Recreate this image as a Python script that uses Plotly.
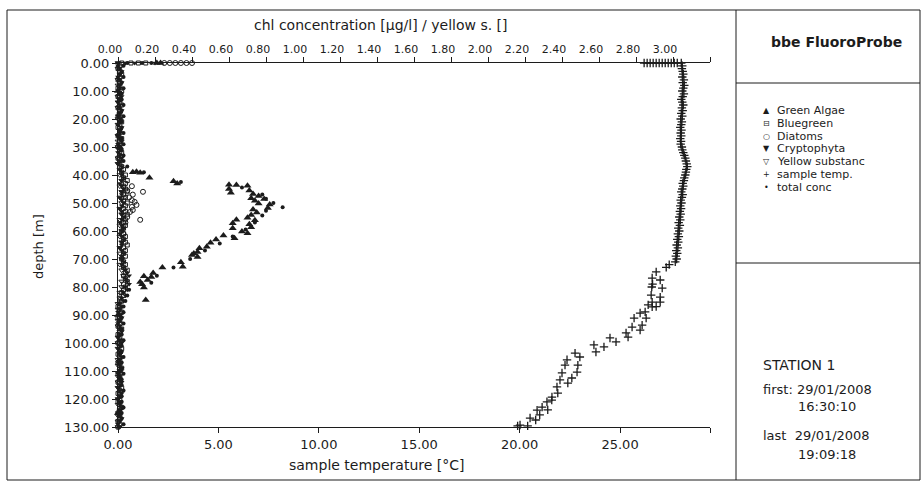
import plotly.graph_objects as go

# ---------------------------------------------------------------- data
# sample temperature profile [°C] vs depth [m]
depth_temp = [0, 0, 0, 0, 0, 0, 0, 0, 0, 0, 0, 0, 0,
              1, 2, 3, 4, 5, 6, 7, 8, 9, 10, 11, 12, 13, 14, 15, 16, 17, 18, 19, 20,
              21, 22, 23, 24, 25, 26, 27, 28, 29, 30, 31, 32, 33, 34, 35, 36, 37, 38, 39, 40,
              41, 42, 43, 44, 45, 46, 47, 48, 49, 50, 51, 52, 53, 54, 55, 56, 57, 58, 59, 60,
              61, 62, 63, 64, 65, 66, 67, 68, 69, 70, 71, 72,
              74.6, 76.8, 79.0, 80.0, 82.9, 85.4, 86.4, 88.9, 89.3, 91.1, 94.3, 96.4, 98.2,
              100.7, 103.6, 106.0, 107.9, 110.7, 113.2, 115.7, 119.3, 121.0, 122.9, 124.0,
              126.8, 129.3, 129.6,
              73.0, 77.5, 80.4, 83.6, 85.4, 87.1, 87.0, 91.1, 93.6, 95.4, 97.9, 99.6, 101.4,
              103.2, 105.0, 107.9, 110.4, 112.5, 114.3, 117.9, 120.4, 123.9, 125.7, 127.5, 129.6]
temp_c = [26.20, 26.35, 26.50, 26.65, 26.80, 26.95, 27.10, 27.25, 27.40, 27.55, 27.70, 27.85, 28.05,
          28.10, 28.08, 28.12, 28.15, 28.10, 28.18, 28.12, 28.20, 28.15, 28.10, 28.18, 28.12, 28.05,
          28.10, 28.15, 28.08, 28.12, 28.05, 28.10, 28.02,
          28.08, 28.05, 28.00, 28.06, 28.02, 28.05, 28.00, 28.04, 28.02, 28.08, 28.10, 28.15, 28.20,
          28.25, 28.28, 28.32, 28.35, 28.30, 28.28, 28.25,
          28.20, 28.18, 28.12, 28.15, 28.10, 28.05, 28.12, 28.08, 28.02, 28.06, 28.00, 28.04, 27.98,
          28.02, 27.95, 28.00, 27.92, 27.98, 27.90, 27.95,
          27.88, 27.93, 27.85, 27.90, 27.82, 27.88, 27.80, 27.85, 27.78, 27.82, 27.75, 27.45,
          26.80, 26.60, 26.62, 26.58, 26.55, 26.60, 26.40, 26.25, 26.00, 25.70, 25.60, 25.30, 24.50,
          23.70, 22.76, 22.36, 22.26, 22.11, 22.01, 21.86, 21.61, 21.36, 21.12, 20.87,
          20.52, 20.02, 19.90,
          27.30, 27.00, 27.10, 27.00, 27.00, 26.60, 26.80, 26.30, 26.10, 26.00, 25.40, 24.80, 24.20,
          23.80, 23.00, 22.90, 22.86, 22.60, 22.40, 21.90, 21.60, 21.40, 21.00, 20.80, 20.40]

# chlorophyll classes [µg/l]; readings at the surface come first, then one per metre
depth_col = [0, 0, 0, 0,
             1, 2, 3, 4, 5, 6, 7, 8, 9, 10, 11, 12, 13, 14, 15, 16, 17, 18, 19, 20,
             21, 22, 23, 24, 25, 26, 27, 28, 29, 30, 31, 32, 33, 34, 35, 36, 37,
             38, 39, 40, 41, 42, 43, 44, 45, 46, 47, 48, 49, 50, 51, 52, 53, 54, 55, 56, 57,
             58, 59, 60, 61, 62, 63, 64, 65, 66, 67, 68, 69, 70, 71, 72, 73, 74, 75, 76, 77,
             78, 79, 80,
             81, 82, 83, 84, 85, 86, 87, 88, 89, 90, 91, 92, 93, 94, 95, 96, 97, 98, 99, 100,
             101, 102, 103, 104, 105, 106, 107, 108, 109, 110, 111, 112, 113, 114, 115, 116,
             117, 118, 119, 120, 121, 122, 123, 124, 125, 126, 127, 128, 129, 130]
bluegreen = [0.02, 0.07, 0.11, 0.15,
             0.01, 0.00, 0.01, 0.02, 0.01, 0.00, 0.01, 0.01, 0.00, 0.02,
             0.01, 0.00, 0.01, 0.01, 0.02, 0.00, 0.01, 0.01, 0.00, 0.01,
             0.02, 0.01, 0.00, 0.01, 0.01, 0.00, 0.02, 0.01, 0.01, 0.00,
             0.01, 0.02, 0.01, 0.00, 0.01, 0.01, 0.02,
             0.03, 0.02, 0.04, 0.03, 0.05, 0.04, 0.03, 0.04, 0.05, 0.03,
             0.04, 0.03, 0.05, 0.04, 0.03, 0.04, 0.05, 0.03, 0.04, 0.03,
             0.04, 0.03, 0.02, 0.03, 0.04, 0.03, 0.04, 0.05, 0.03, 0.04,
             0.03, 0.04, 0.02, 0.03, 0.04, 0.03, 0.05, 0.04, 0.03, 0.04,
             0.05, 0.03, 0.04,
             0.03, 0.02, 0.03, 0.01, 0.02, 0.01, 0.00, 0.01, 0.02, 0.01,
             0.00, 0.01, 0.01, 0.00, 0.02, 0.01, 0.00, 0.01, 0.01, 0.00,
             0.01, 0.02, 0.01, 0.00, 0.01, 0.01, 0.00, 0.01, 0.02, 0.01,
             0.00, 0.01, 0.01, 0.00, 0.01, 0.02, 0.01, 0.00, 0.01, 0.01,
             0.00, 0.01, 0.02, 0.01, 0.00, 0.01, 0.01, 0.00, 0.01, 0.00]
cryptophyta = [0.00, 0.04, 0.09, 0.20,
               0.00, 0.01, 0.02, 0.01, 0.00, 0.01, 0.02, 0.01, 0.01, 0.00,
               0.01, 0.02, 0.01, 0.00, 0.01, 0.01, 0.02, 0.01, 0.00, 0.01,
               0.01, 0.00, 0.02, 0.01, 0.01, 0.00, 0.01, 0.02, 0.00, 0.01,
               0.01, 0.00, 0.01, 0.02, 0.01, 0.00, 0.02,
               0.01, 0.02, 0.02, 0.03, 0.02, 0.01, 0.02, 0.03, 0.02, 0.02,
               0.01, 0.02, 0.03, 0.02, 0.01, 0.02, 0.02, 0.03, 0.02, 0.01,
               0.02, 0.03, 0.02, 0.01, 0.02, 0.03, 0.02, 0.02, 0.01, 0.02,
               0.03, 0.02, 0.02, 0.03, 0.02, 0.03, 0.04, 0.05, 0.06, 0.04,
               0.05, 0.06, 0.04,
               0.05, 0.03, 0.04, 0.02, 0.03, 0.01, 0.02, 0.01, 0.00, 0.01,
               0.02, 0.01, 0.00, 0.01, 0.01, 0.02, 0.01, 0.00, 0.01, 0.02,
               0.01, 0.00, 0.01, 0.01, 0.02, 0.01, 0.00, 0.01, 0.02, 0.01,
               0.00, 0.01, 0.01, 0.02, 0.01, 0.00, 0.01, 0.02, 0.01, 0.00,
               0.01, 0.01, 0.02, 0.01, 0.00, 0.01, 0.02, 0.01, 0.00, 0.01]

# yellow substance, one reading every two metres
depth_yellow = [0, 2, 4, 6, 8, 10, 12, 14, 16, 18, 20, 22, 24, 26, 28, 30, 32, 34, 36,
                38, 40, 42, 44, 46, 48, 50, 52, 54, 56, 58, 60, 62, 64, 66, 68, 70, 72, 74, 76,
                78, 80,
                82, 84, 86, 88, 90, 92, 94, 96, 98, 100, 102, 104, 106, 108, 110, 112, 114, 116,
                118, 120, 122, 124, 126, 128, 130]
yellow_subst = [0.00, 0.00, 0.01, 0.00, 0.00, 0.01, 0.00, 0.00, 0.00, 0.01, 0.00, 0.00, 0.01, 0.00,
                0.00, 0.00, 0.01, 0.00, 0.00,
                0.01, 0.01, 0.02, 0.01, 0.02, 0.01, 0.02, 0.01, 0.02, 0.01, 0.01, 0.02, 0.01, 0.02,
                0.01, 0.01, 0.02, 0.01, 0.02, 0.03, 0.02, 0.02,
                0.01, 0.01, 0.00, 0.00, 0.01, 0.00, 0.00, 0.01, 0.00, 0.00, 0.00, 0.01, 0.00, 0.00,
                0.01, 0.00, 0.00, 0.00, 0.01, 0.00, 0.00, 0.01, 0.00, 0.00, 0.00]

depth_green = [0, 0, 10, 30, 90, 110, 125,
               39.0, 38.8, 39.2, 41.0, 42.2, 43.0, 43.5, 45.0, 46.3, 43.6, 43.8, 45.5, 46.8, 47.5,
               48.3, 49.2, 50.2, 48.6, 50.5, 51.8, 52.3, 53.4, 54.3, 55.3, 56.2, 57.6, 58.7, 56.0,
               57.2, 59.0, 60.2, 60.8, 62.6, 61.6, 63.0, 64.2, 65.6, 66.2, 67.5, 68.6, 69.3, 68.0,
               71.2, 72.8, 73.0, 75.0, 76.4, 76.2, 77.5, 79.0, 80.2, 78.2, 84.6]
green_algae = [0.21, 0.23, 0.00, 0.01, 0.00, 0.01, 0.00,
               0.08, 0.10, 0.12, 0.17, 0.30, 0.32, 0.60, 0.60, 0.61, 0.64, 0.70, 0.71, 0.73, 0.76,
               0.72, 0.74, 0.76, 0.79, 0.82, 0.81, 0.73, 0.75, 0.72, 0.70, 0.74, 0.71, 0.72, 0.64,
               0.62, 0.62, 0.67, 0.70, 0.63, 0.57, 0.53, 0.50, 0.48, 0.44, 0.43, 0.40, 0.43, 0.41,
               0.34, 0.35, 0.24, 0.19, 0.18, 0.14, 0.16, 0.13, 0.14, 0.12, 0.15]

depth_diatoms = [0, 0, 0, 0, 0, 0,
                 44.0, 47.0, 46.0, 49.0, 49.6, 50.7, 51.4, 52.5, 53.2, 56.0, 55.0, 57.0, 61.0,
                 48.0, 45.5, 20, 100]
diatoms = [0.25, 0.28, 0.31, 0.34, 0.37, 0.40,
           0.075, 0.08, 0.135, 0.075, 0.09, 0.10, 0.075, 0.08, 0.065, 0.12, 0.05, 0.04, 0.03,
           0.06, 0.05, 0.01, 0.01]

depth_total = [0, 0, 0, 1, 3, 5, 7, 9, 11, 13, 15, 17, 19, 21, 23, 25, 27, 29, 31, 33, 35, 37,
               39.0, 42.5, 44.5, 47.0, 48.5, 50.0, 51.5, 52.8, 54.5, 57.0, 59.5, 62.0, 64.5, 67.0,
               70.0, 73.0, 76.0, 78.5,
               81, 83, 85, 87, 89, 91, 93, 95, 97, 99, 101, 103, 105, 107, 109, 111, 113, 115,
               117, 119, 121, 123, 125, 127, 129]
total_conc = [0.05, 0.13, 0.18, 0.03, 0.02, 0.03, 0.02, 0.03, 0.02, 0.02, 0.03, 0.02, 0.03, 0.02,
              0.02, 0.03, 0.02, 0.03, 0.02, 0.03, 0.03, 0.05,
              0.14, 0.34, 0.67, 0.78, 0.80, 0.84, 0.89, 0.80, 0.78, 0.74, 0.69, 0.62, 0.55, 0.47,
              0.39, 0.30, 0.21, 0.18,
              0.06, 0.05, 0.04, 0.03, 0.03, 0.02, 0.03, 0.02, 0.02, 0.03, 0.02, 0.02, 0.03, 0.02,
              0.02, 0.03, 0.02, 0.02, 0.03, 0.02, 0.02, 0.03, 0.02, 0.02, 0.03]

depth_ticks = [0, 10, 20, 30, 40, 50, 60, 70, 80, 90, 100, 110, 120, 130]
temp_ticks = [0, 5, 10, 15, 20, 25]
chl_ticks = [0.0, 0.2, 0.4, 0.6, 0.8, 1.0, 1.2, 1.4, 1.6, 1.8, 2.0, 2.2, 2.4, 2.6, 2.8, 3.0]

legend_items = [("\u25B2", "Green Algae"), ("\u229F", "Bluegreen"), ("\u25CB", "Diatoms"),
                ("\u25BC", "Cryptophyta"), ("\u25BD", "Yellow substanc"),
                ("+", "sample temp."), ("\u2022", "total conc")]
station_lines = ["STATION 1", "first: 29/01/2008", "16:30:10", "last  29/01/2008", "19:09:18"]

# ---------------------------------------------------------------- styling
INK = "#1c1c1c"
FONT = "DejaVu Sans"
W, H = 923, 483
PL, PR, PT, PB = 118, 710, 63, 427      # plot area in pixels
TEMP_MAX = 29.48
CHL_MAX = 3.2


def fx(x):
    return (x - PL) / (PR - PL)


def fy(y):
    return (PB - y) / (PB - PT)


fig = go.Figure()


def chl_trace(xv, yv, symbol, size, open_marker=False):
    if open_marker:
        marker = dict(symbol=symbol, size=size, color=INK,
                      line=dict(color=INK, width=1))
    else:
        marker = dict(symbol=symbol, size=size, color=INK, line=dict(width=0))
    fig.add_trace(go.Scatter(x=xv, y=yv, mode="markers", xaxis="x2", yaxis="y",
                             marker=marker, cliponaxis=False, showlegend=False,
                             hoverinfo="skip"))


# sample temperature on the bottom axis
fig.add_trace(go.Scatter(x=temp_c, y=depth_temp, mode="markers", xaxis="x", yaxis="y",
                         marker=dict(symbol="cross-thin-open", size=6, color=INK,
                                     line=dict(color=INK, width=1.3)),
                         cliponaxis=False, showlegend=False, hoverinfo="skip"))

# chlorophyll classes on the top axis
chl_trace(yellow_subst, depth_yellow, "triangle-down-open", 5, open_marker=True)
chl_trace(bluegreen, depth_col, "square-open", 4, open_marker=True)
chl_trace(diatoms, depth_diatoms, "circle-open", 5, open_marker=True)
chl_trace(cryptophyta, depth_col, "triangle-down", 5)
chl_trace(green_algae, depth_green, "triangle-up", 7)
chl_trace(total_conc, depth_total, "circle", 4)

tick_font = dict(family=FONT, size=13, color=INK)
axis_common = dict(showline=True, linecolor=INK, linewidth=1, ticks="outside",
                   ticklen=5, tickwidth=1, tickcolor=INK, showgrid=False,
                   zeroline=False, tickfont=tick_font)

fig.update_layout(
    width=W, height=H,
    margin=dict(l=PL, r=W - PR, t=PT, b=H - PB, pad=0),
    paper_bgcolor="white", plot_bgcolor="white",
    showlegend=False,
    xaxis=dict(range=[0, TEMP_MAX], anchor="y", side="bottom",
               tickvals=temp_ticks + [TEMP_MAX],
               ticktext=[f"{v:.2f}" for v in temp_ticks] + [""],
               **axis_common),
    xaxis2=dict(range=[0, CHL_MAX], anchor="y", side="top", overlaying="x",
                tickvals=chl_ticks + [CHL_MAX],
                ticktext=[f"{v:.2f}" for v in chl_ticks] + [""],
                ticklabelshift=-8,
                **{**axis_common, "tickfont": dict(family=FONT, size=11, color=INK)}),
    yaxis=dict(range=[130, 0], tickvals=depth_ticks,
               ticktext=[f"{v:.2f}" for v in depth_ticks],
               **axis_common),
)

# frame of the whole sheet and the info panel on the right
line = dict(color=INK, width=1)
shapes = [
    dict(type="rect", xref="paper", yref="paper", x0=fx(7), x1=fx(920), y0=fy(480), y1=fy(10),
         line=line),
    dict(type="line", xref="paper", yref="paper", x0=fx(736), x1=fx(736), y0=fy(480), y1=fy(10),
         line=line),
    dict(type="line", xref="paper", yref="paper", x0=fx(736), x1=fx(920), y0=fy(83), y1=fy(83),
         line=line),
    dict(type="line", xref="paper", yref="paper", x0=fx(736), x1=fx(920), y0=fy(263), y1=fy(263),
         line=line),
]
fig.update_layout(shapes=shapes)

annotations = []


def note(text, x, y, size=13, anchor="left", angle=0, bold=False):
    annotations.append(dict(
        text=f"<b>{text}</b>" if bold else text,
        xref="paper", yref="paper", x=fx(x), y=fy(y),
        xanchor=anchor, yanchor="middle", showarrow=False, textangle=angle,
        borderpad=0, font=dict(family=FONT, size=size, color=INK)))


# axis titles
note("chl concentration [\u00b5g/l] / yellow s. []", 381, 25, size=14, anchor="center")
note("sample temperature [\u00b0C]", 377, 465, size=14, anchor="center")
note("depth [m]", 38, 247, size=13, anchor="center", angle=-90)

# panel header
note("bbe FluoroProbe", 836, 42, size=14, anchor="center", bold=True)

# series key
key_rows = [110.5, 123.3, 136.1, 148.9, 161.7, 174.5, 187.3]
for (sym, label), yy in zip(legend_items, key_rows):
    note(sym, 766, yy, size=8, anchor="center")
    note(label, 776, yy, size=11)

# station and time span
note(station_lines[0], 762, 365, size=14)
note(station_lines[1], 762, 389, size=13)
note(station_lines[2], 797, 406, size=13)
note(station_lines[3], 762, 436, size=13)
note(station_lines[4], 797, 454, size=13)

fig.update_layout(annotations=annotations)

fig.write_html("out.html")
